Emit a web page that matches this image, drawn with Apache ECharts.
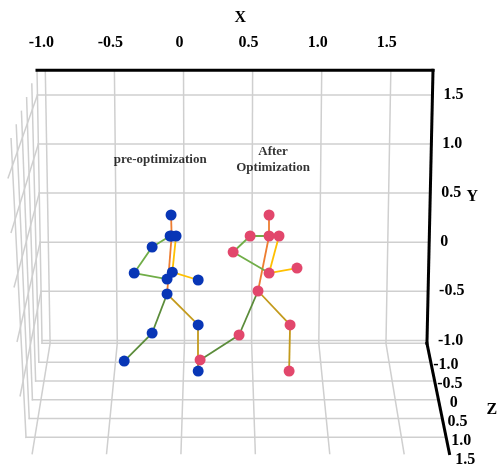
<!DOCTYPE html>
<html>
<head>
<meta charset="utf-8">
<script src="https://cdn.jsdelivr.net/npm/echarts@6/dist/echarts.min.js"></script>
<style>
html, body { margin: 0; padding: 0; background: #fff; }
#main { width: 497px; height: 469px; }
</style>
</head>
<body>
<div id="main"></div>
<script>
// axis ticks
var xTicks = [-1.0, -0.5, 0, 0.5, 1.0, 1.5];
var yTicks = [-1.0, -0.5, 0, 0.5, 1.0, 1.5];
var zTicks = [-1.0, -0.5, 0, 0.5, 1.0, 1.5];
var tickText = ['-1.0', '-0.5', '0', '0.5', '1.0', '1.5'];

// box extent
var boxX = [-1.06, 1.805];
var boxY = [-1.03, 1.75];
var boxZ = [-1.0, 1.93];

// joints (x, y)
var preJoints = {
    head: [-0.090, 0.277], lsh: [-0.097, 0.063], neck: [-0.086, 0.063], rsh: [-0.054, 0.063],
    lelb: [-0.227, -0.049], lhand: [-0.357, -0.314], hip: [-0.119, -0.375],
    relb: [-0.081, -0.305], rhand: [0.106, -0.385], pelvis: [-0.119, -0.527],
    lknee: [-0.227, -0.925], lfoot: [-0.429, -1.210], rknee: [0.106, -0.843], rfoot: [0.106, -1.312]
};
var afterJoints = {
    head: [0.619, 0.277], lsh: [0.482, 0.063], neck: [0.619, 0.063], rsh: [0.691, 0.063],
    lelb: [0.359, -0.100], relb: [0.619, -0.314], rhand: [0.821, -0.263], pelvis: [0.539, -0.497],
    lknee: [0.402, -0.945], lfoot: [0.120, -1.199], rknee: [0.771, -0.843], rfoot: [0.764, -1.312]
};
var preBones = [
    ['head', 'neck', 'spine'], ['neck', 'pelvis', 'spine'],
    ['lsh', 'lelb', 'larm'], ['lelb', 'lhand', 'larm'], ['lhand', 'hip', 'larm'],
    ['rsh', 'relb', 'rarm'], ['relb', 'rhand', 'rarm'],
    ['pelvis', 'rknee', 'rleg'], ['rknee', 'rfoot', 'rleg'],
    ['pelvis', 'lknee', 'lleg'], ['lknee', 'lfoot', 'lleg']
];
var afterBones = [
    ['head', 'neck', 'spine'], ['neck', 'pelvis', 'spine'],
    ['neck', 'lsh', 'larm'], ['lsh', 'lelb', 'larm'], ['lelb', 'relb', 'larm'],
    ['rsh', 'relb', 'rarm'], ['relb', 'rhand', 'rarm'],
    ['pelvis', 'rknee', 'rleg'], ['rknee', 'rfoot', 'rleg'],
    ['pelvis', 'lknee', 'lleg'], ['lknee', 'lfoot', 'lleg']
];
var boneColors = {
    spine: '#ED7D31', larm: '#70AD47', rarm: '#FFC000', rleg: '#C39A1C', lleg: '#5B8C3A'
};
var notes = [
    { name: 'pre-optimization', value: [-0.169, 0.837] },
    { name: 'After\nOptimization', value: [0.648, 0.837] }
];

var GRID_COLOR = '#cfcfcf';
var FONT = '"Liberation Serif", "Times New Roman", serif';

function bonesData(joints, bones) {
    return bones.map(function (b) {
        return {
            coords: [joints[b[0]], joints[b[1]]],
            lineStyle: { color: boneColors[b[2]] }
        };
    });
}
function jointData(joints) {
    return Object.keys(joints).map(function (k) { return joints[k]; });
}

function renderFrame(params, api) {
    var c = api.coord([0.243, 0]);
    var vy = c[1] - 899;
    // rough perspective: depth pushes points away from a centre high above
    function proj(x, y, z) {
        var p = api.coord([x, y]);
        var d = z - boxZ[0];
        var t = (boxY[1] - y) / (boxY[1] - boxY[0]);
        var kx = 0.0366 + 0.021 * (1 - t);
        var sc = (1 - 0.028 * t) * (1 + kx * d);
        return [c[0] + (p[0] - c[0]) * sc, p[1] + (p[1] - vy) * 0.0376 * d];
    }
    var lines = [], texts = [];
    function seg(a, b, color, w) {
        var p1 = proj(a[0], a[1], a[2]);
        var p2 = proj(b[0], b[1], b[2]);
        lines.push({
            type: 'line',
            shape: { x1: p1[0], y1: p1[1], x2: p2[0], y2: p2[1] },
            style: { stroke: color, lineWidth: w, lineCap: 'square' }
        });
    }
    function label(text, p, dx, dy, align, size) {
        texts.push({
            type: 'text',
            x: p[0] + dx, y: p[1] + dy,
            style: {
                text: text, fill: '#000', fontFamily: FONT, fontWeight: 'bold',
                fontSize: size || 16, align: align || 'center', verticalAlign: 'middle'
            }
        });
    }
    var i;
    // left wall
    for (i = 1; i < zTicks.length; i++) {
        seg([boxX[0], boxY[0], zTicks[i]], [boxX[0], boxY[1], zTicks[i]], GRID_COLOR, 1.5);
    }
    for (i = 1; i < yTicks.length; i++) {
        seg([boxX[0], yTicks[i], boxZ[0]], [boxX[0], yTicks[i], boxZ[1]], GRID_COLOR, 1.5);
    }
    // floor
    for (i = 0; i < zTicks.length; i++) {
        seg([boxX[0], boxY[0], zTicks[i]], [boxX[1], boxY[0], zTicks[i]], GRID_COLOR, 1.5);
    }
    for (i = 0; i < xTicks.length; i++) {
        seg([xTicks[i], boxY[0], boxZ[0]], [xTicks[i], boxY[0], boxZ[1]], GRID_COLOR, 1.5);
    }
    // back wall
    for (i = 0; i < xTicks.length; i++) {
        seg([xTicks[i], boxY[0], boxZ[0]], [xTicks[i], boxY[1], boxZ[0]], GRID_COLOR, 1.5);
    }
    for (i = 0; i < yTicks.length; i++) {
        seg([boxX[0], yTicks[i], boxZ[0]], [boxX[1], yTicks[i], boxZ[0]], GRID_COLOR, 1.5);
    }
    seg([boxX[0], boxY[0], boxZ[0]], [boxX[0], boxY[1], boxZ[0]], GRID_COLOR, 1.5);
    // axis lines
    seg([boxX[0], boxY[1], boxZ[0]], [boxX[1], boxY[1], boxZ[0]], '#000', 3);
    seg([boxX[1], boxY[1], boxZ[0]], [boxX[1], boxY[0], boxZ[0]], '#000', 3);
    seg([boxX[1], boxY[0], boxZ[0]], [boxX[1], boxY[0], boxZ[1]], '#000', 3);

    // tick labels
    for (i = 0; i < xTicks.length; i++) {
        label(tickText[i], proj(xTicks[i], boxY[1], boxZ[0]), -4, -27);
    }
    label('X', proj(0.41, boxY[1], boxZ[0]), 0, -52);
    for (i = 0; i < yTicks.length; i++) {
        label(tickText[i], proj(boxX[1], yTicks[i], boxZ[0]), 11, 0, 'left');
    }
    label('Y', proj(boxX[1], 0.46, boxZ[0]), 42, 0);
    for (i = 0; i < zTicks.length; i++) {
        label(tickText[i], proj(boxX[1], boxY[0], zTicks[i]), 19, 22);
    }
    label('Z', proj(boxX[1], boxY[0], 0.3), 55, 18);

    return { type: 'group', children: lines.concat(texts) };
}

var chart = echarts.init(document.getElementById('main'));
var option = {
    animation: false,
    backgroundColor: '#fff',
    grid: { left: 37, right: 64, top: 70.35, bottom: 79.5 },
    xAxis: { type: 'value', min: boxX[0], max: boxX[1], show: false },
    yAxis: { type: 'value', min: -1.5, max: boxY[1], show: false },
    series: [
        {
            type: 'custom',
            coordinateSystem: 'cartesian2d',
            renderItem: renderFrame,
            data: [[0, 0]],
            clip: false,
            silent: true,
            z: 1
        },
        {
            type: 'lines',
            coordinateSystem: 'cartesian2d',
            data: bonesData(preJoints, preBones).concat(bonesData(afterJoints, afterBones)),
            lineStyle: { width: 1.8, opacity: 1 },
            silent: true,
            z: 2
        },
        {
            type: 'scatter',
            data: jointData(preJoints),
            symbolSize: 11,
            itemStyle: { color: '#0836B6', opacity: 1 },
            clip: false,
            silent: true,
            z: 3
        },
        {
            type: 'scatter',
            data: jointData(afterJoints),
            symbolSize: 11,
            itemStyle: { color: '#E2476C', opacity: 1 },
            clip: false,
            silent: true,
            z: 4
        },
        {
            type: 'scatter',
            data: notes,
            symbolSize: 0,
            label: {
                show: true,
                position: 'inside',
                formatter: '{b}',
                color: '#000',
                textBorderWidth: 0,
                fontFamily: FONT,
                fontWeight: 'bold',
                fontSize: 13,
                lineHeight: 16
            },
            silent: true,
            z: 5
        }
    ]
};
chart.setOption(option);
</script>
</body>
</html>
